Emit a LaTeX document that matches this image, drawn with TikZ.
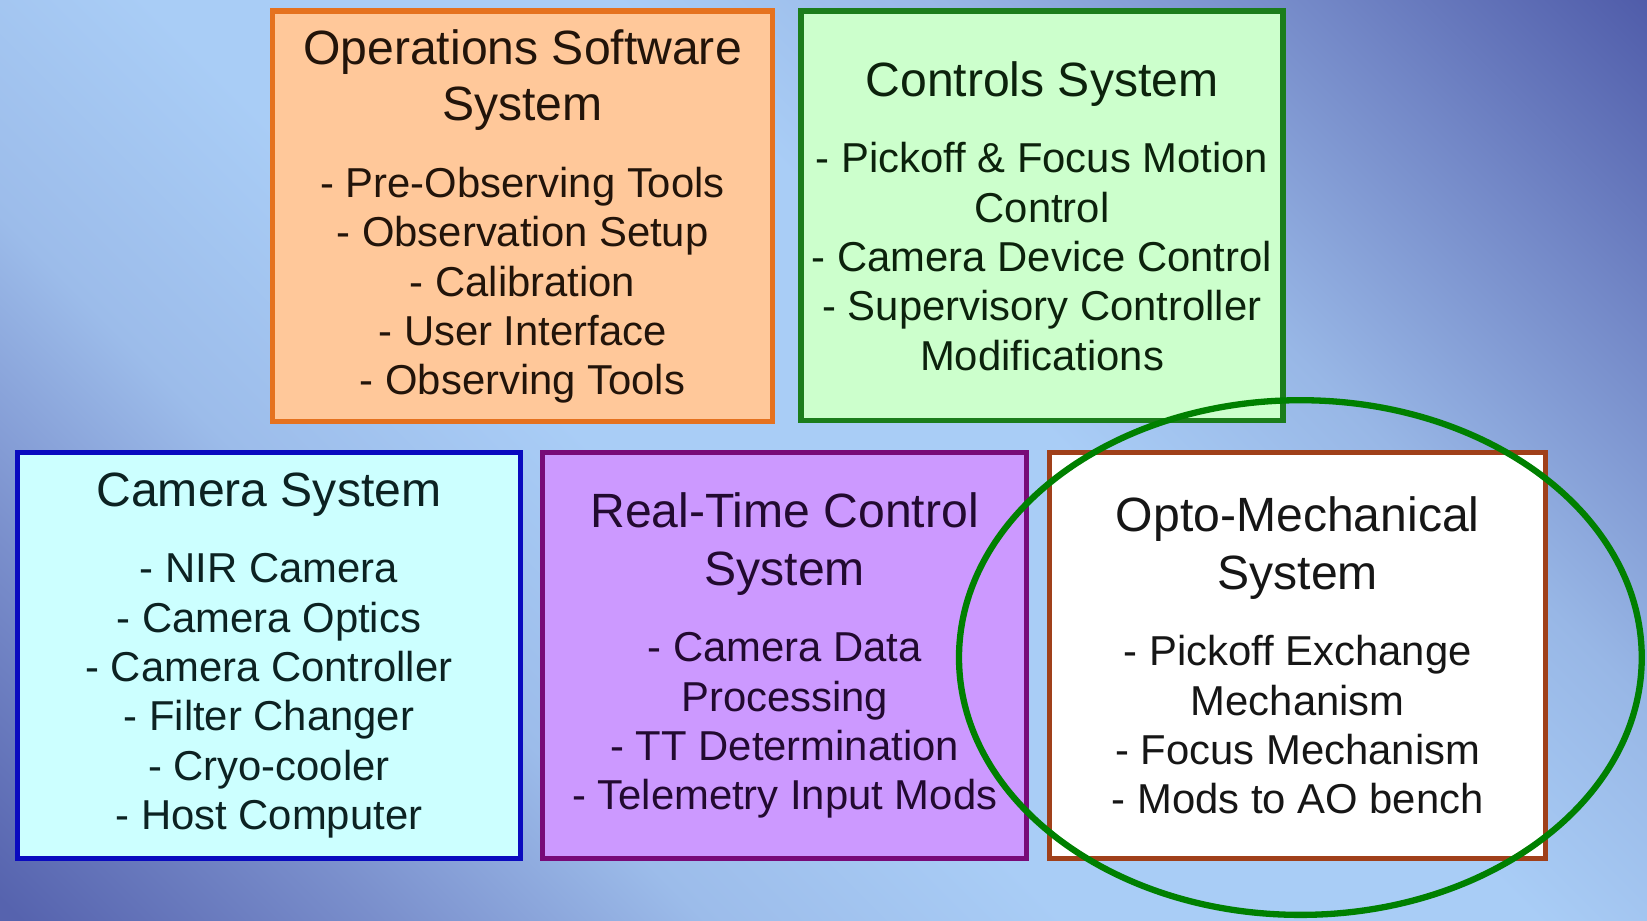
\documentclass[tikz,border=0pt]{standalone}
\usepackage{fontspec}
\setmainfont{Liberation Sans}
\usetikzlibrary{shapes.geometric}
\definecolor{bgA}{HTML}{5663AE}
\definecolor{bgB}{HTML}{7A8FCC}
\definecolor{bgC}{HTML}{9CBCEA}
\definecolor{bgD}{HTML}{A9CDF6}
\definecolor{bgE}{HTML}{98B7E6}
\definecolor{bgF}{HTML}{7489C8}
\definecolor{bgG}{HTML}{4E5AA8}
\pgfdeclarehorizontalshading{bgshade}{100bp}{color(0bp)=(bgA); color(15bp)=(bgA); color(25bp)=(bgB); color(34bp)=(bgC); color(44bp)=(bgD); color(57bp)=(bgD); color(66bp)=(bgE); color(76bp)=(bgF); color(86bp)=(bgG); color(100bp)=(bgG)}
\definecolor{opsfill}{HTML}{FFC89A}
\definecolor{opsdraw}{HTML}{E5721F}
\definecolor{opstext}{HTML}{22140A}
\definecolor{ctlfill}{HTML}{CCFFCC}
\definecolor{ctldraw}{HTML}{1B7D1B}
\definecolor{ctltext}{HTML}{0C220C}
\definecolor{camfill}{HTML}{CCFFFF}
\definecolor{camdraw}{HTML}{0A0ABF}
\definecolor{camtext}{HTML}{0C2222}
\definecolor{rtcfill}{HTML}{CC99FF}
\definecolor{rtcdraw}{HTML}{780A78}
\definecolor{rtctext}{HTML}{220A30}
\definecolor{optofill}{HTML}{FFFFFF}
\definecolor{optodraw}{HTML}{A0401A}
\definecolor{optotext}{HTML}{161616}
\definecolor{ringgreen}{HTML}{008000}
\newcommand\boxitemfont{\fontsize{39.8}{47}\selectfont}
\newcommand\boxtitlefont{\fontsize{45.8}{54}\selectfont}
\tikzset{
  sysbox/.style={rectangle, line width=5pt, align=center, inner sep=0pt, font=\boxitemfont},
  ring/.style={ellipse, draw=ringgreen, line width=6pt, inner sep=0pt},
}
\begin{document}
\begin{tikzpicture}[x=1pt,y=-1pt]
\useasboundingbox (0,0) rectangle (1568,876);
\shade[shading=bgshade, shading angle=45] (0,0) rectangle (1568,876);
\node[sysbox, draw=opsdraw, fill=opsfill, text=opstext, minimum width=476, minimum height=391] (ops) at (497.5,206)
 {{\boxtitlefont Operations Software}\\[7pt]{\boxtitlefont System}\\[26pt]- Pre-Observing Tools\\- Observation Setup\\- Calibration\\- User Interface\\- Observing Tools};
\node[sysbox, draw=ctldraw, fill=ctlfill, text=ctltext, minimum width=459, minimum height=390] (ctl) at (992,205.5)
 {{\boxtitlefont Controls System}\\[26pt]- Pickoff \& Focus Motion\\Control\\- Camera Device Control\\- Supervisory Controller\\Modifications};
\node[sysbox, draw=camdraw, fill=camfill, text=camtext, minimum width=479, minimum height=387] (cam) at (256,624)
 {{\boxtitlefont Camera System}\\[26pt]- NIR Camera\\- Camera Optics\\- Camera Controller\\- Filter Changer\\- Cryo-cooler\\- Host Computer};
\node[sysbox, draw=rtcdraw, fill=rtcfill, text=rtctext, minimum width=461, minimum height=387] (rtc) at (747,624)
 {{\boxtitlefont Real-Time Control}\\[8pt]{\boxtitlefont System}\\[26pt]- Camera Data\\Processing\\- TT Determination\\- Telemetry Input Mods};
\node[sysbox, draw=optodraw, fill=optofill, text=optotext, minimum width=472, minimum height=387] (opto) at (1235.5,624)
 {{\boxtitlefont Opto-Mechanical}\\[8pt]{\boxtitlefont System}\\[26pt]- Pickoff Exchange\\Mechanism\\- Focus Mechanism\\- Mods to AO bench};
\node[ring, minimum width=650, minimum height=490] (oval) at (1238,626) {};
\end{tikzpicture}
\end{document}
